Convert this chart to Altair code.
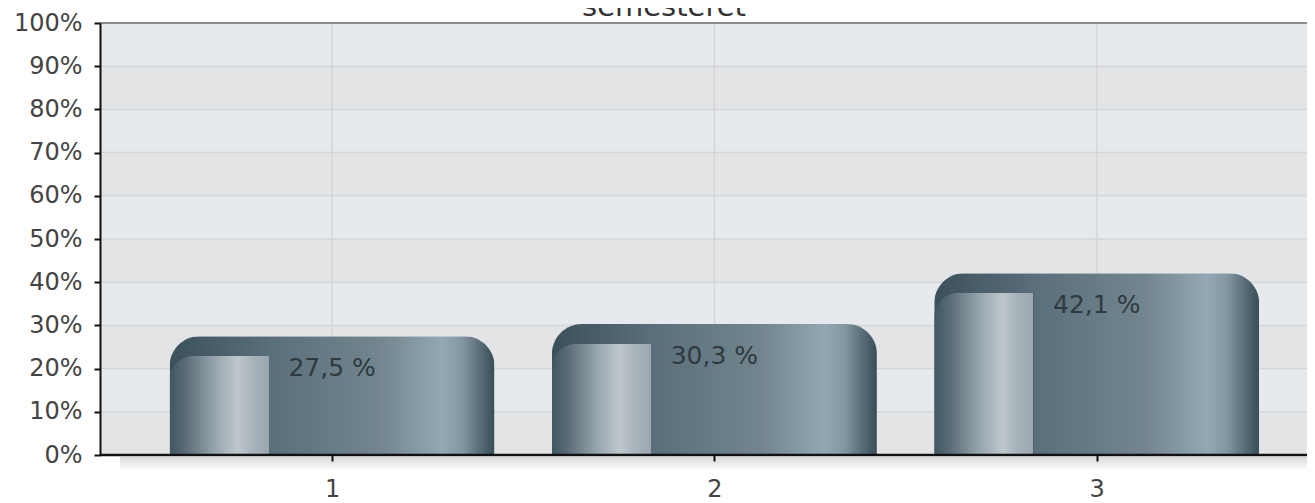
import altair as alt
import pandas as pd

# ---- data ----
categories = [1, 2, 3]
shares = [27.5, 30.3, 42.1]
y_ticks = [0, 10, 20, 30, 40, 50, 60, 70, 80, 90, 100]
title_text = "semesteret"

W, H = 1207, 432
FONT = "DejaVu Sans"

bars = pd.DataFrame({"cat": categories, "share": shares})
bands = pd.DataFrame({
    "lo": y_ticks[:-1],
    "hi": y_ticks[1:],
    "fill": ["#e3e4e6" if i % 2 == 0 else "#e7eaed" for i in range(len(y_ticks) - 1)],
})
hgrid = pd.DataFrame({"v": y_ticks})
vgrid = pd.DataFrame({"cat": categories})

x_scale = alt.Scale(domain=[0.406, 3.537], nice=False, zero=False)
y_scale = alt.Scale(domain=[0, 100], nice=False)

x_axis = alt.Axis(values=categories, format="d", title=None, grid=False, domain=False,
                  tickColor="#111", tickWidth=2, tickSize=6, labelFont=FONT,
                  labelFontSize=24, labelColor="#444", labelBaseline="alphabetic",
                  labelPadding=35, zindex=1)
y_axis = alt.Axis(values=y_ticks, title=None, grid=False, labelExpr="datum.value + '%'",
                  domainColor="#111", domainWidth=2, tickColor="#111", tickWidth=2,
                  tickSize=6, labelFont=FONT, labelFontSize=24, labelColor="#444",
                  labelPadding=12, zindex=1)

band_layer = alt.Chart(bands).mark_rect().encode(
    x=alt.value(0), x2=alt.value(W),
    y=alt.Y("lo:Q", scale=y_scale, axis=y_axis), y2="hi:Q",
    fill=alt.Fill("fill:N", scale=None),
)

hgrid_layer = alt.Chart(hgrid).mark_rule(color="#d4d5d7", strokeWidth=1.5).encode(
    x=alt.value(0), x2=alt.value(W),
    y=alt.Y("v:Q", scale=y_scale, axis=y_axis),
)

vgrid_layer = alt.Chart(vgrid).mark_rule(color="#d4d5d7", strokeWidth=1.5).encode(
    x=alt.X("cat:Q", scale=x_scale, axis=x_axis),
    y=alt.value(0), y2=alt.value(H),
)

top_border = alt.Chart(pd.DataFrame({"v": [y_ticks[-1]]})).mark_rule(
    color="#8a8a8a", strokeWidth=2).encode(
    x=alt.value(0), x2=alt.value(W),
    y=alt.Y("v:Q", scale=y_scale, axis=y_axis),
)

shadow = alt.Chart(pd.DataFrame({"v": [0]})).mark_rect(
    color=alt.LinearGradient(
        gradient="linear", x1=0, x2=0, y1=0, y2=1,
        stops=[alt.GradientStop(offset=0, color="#dadada"),
               alt.GradientStop(offset=1, color="#ffffff")])).encode(
    x=alt.value(20), x2=alt.value(W),
    y=alt.value(H + 2), y2=alt.value(H + 16),
)

main_grad = alt.LinearGradient(
    gradient="linear", x1=0, x2=1, y1=0, y2=0,
    stops=[alt.GradientStop(offset=0, color="#3b505b"),
           alt.GradientStop(offset=0.31, color="#596f7b"),
           alt.GradientStop(offset=0.65, color="#73868f"),
           alt.GradientStop(offset=0.84, color="#93a8b4"),
           alt.GradientStop(offset=0.9, color="#8397a2"),
           alt.GradientStop(offset=0.95, color="#5d717c"),
           alt.GradientStop(offset=1, color="#394d57")])

inset_grad = alt.LinearGradient(
    gradient="linear", x1=0, x2=1, y1=0, y2=0,
    stops=[alt.GradientStop(offset=0, color="#41565f"),
           alt.GradientStop(offset=0.05, color="#5a6d77"),
           alt.GradientStop(offset=0.14, color="#97a6ae"),
           alt.GradientStop(offset=0.21, color="#bec7cc"),
           alt.GradientStop(offset=0.25, color="#aab5bc"),
           alt.GradientStop(offset=0.305, color="#9aa7ae"),
           alt.GradientStop(offset=0.306, color="rgba(0,0,0,0)"),
           alt.GradientStop(offset=1, color="rgba(0,0,0,0)")])

bar_main = alt.Chart(bars).mark_bar(
    size=325, cornerRadiusTopLeft=30, cornerRadiusTopRight=30, color=main_grad).encode(
    x=alt.X("cat:Q", scale=x_scale, axis=x_axis),
    y=alt.Y("share:Q", scale=y_scale, axis=y_axis),
)

bar_inset = alt.Chart(bars).transform_calculate(
    inner="datum.share - 4.6"
).mark_bar(
    size=325, cornerRadiusTopLeft=24, color=inset_grad).encode(
    x=alt.X("cat:Q", scale=x_scale, axis=x_axis),
    y=alt.Y("inner:Q", scale=y_scale, axis=y_axis),
)

x_line = alt.Chart(pd.DataFrame({"v": [0]})).mark_rule(
    color="#111", strokeWidth=2.5).encode(
    x=alt.value(0), x2=alt.value(W),
    y=alt.Y("v:Q", scale=y_scale, axis=y_axis),
)

labels = alt.Chart(bars).transform_calculate(
    label="replace(format(datum.share, '.1f'), '.', ',') + ' %'"
).mark_text(dy=32, font=FONT, fontSize=25, color="#2e3a40").encode(
    x=alt.X("cat:Q", scale=x_scale, axis=x_axis),
    y=alt.Y("share:Q", scale=y_scale, axis=y_axis),
    text="label:N",
)

title_layer = alt.Chart(pd.DataFrame({"t": [title_text]})).mark_text(
    font=FONT, fontSize=29, color="#333", baseline="alphabetic").encode(
    x=alt.value(564), y=alt.value(-7), text="t:N",
)

chart = alt.layer(
    band_layer, hgrid_layer, vgrid_layer, top_border, shadow,
    bar_main, bar_inset, x_line, labels, title_layer,
).properties(
    width=W, height=H,
    autosize=alt.AutoSizeParams(type="none"),
    padding={"left": 92, "top": 15, "right": 0, "bottom": 48},
).configure_view(stroke=None)

chart.save("out.html", embed_options={"renderer": "svg", "actions": False})
